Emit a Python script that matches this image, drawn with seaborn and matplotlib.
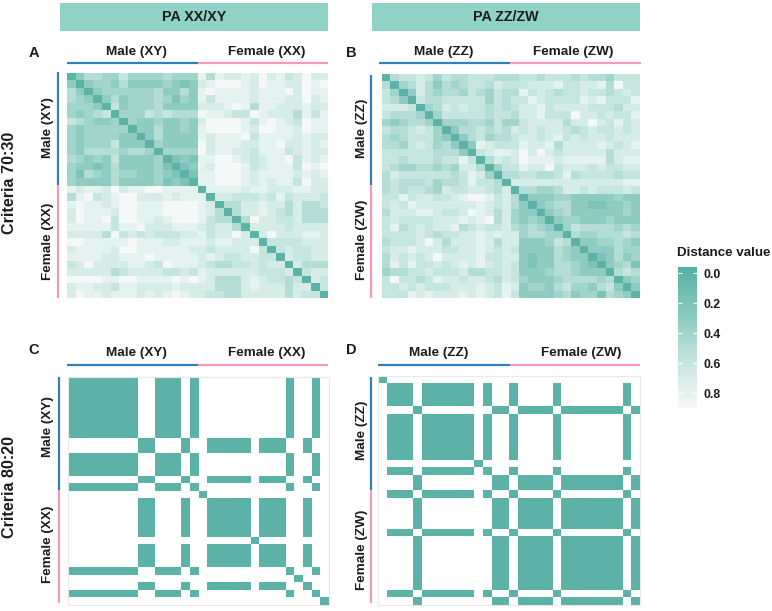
import numpy as np
import matplotlib
matplotlib.use("Agg")
import matplotlib.pyplot as plt
import seaborn as sns
from matplotlib.colors import LinearSegmentedColormap
from matplotlib.lines import Line2D
from matplotlib.patches import Rectangle

# panel A, one digit = distance in tenths
a_male = ["035544644445444", "03443533334323", "0344444453353", "035344454243",
          "06344453333", "0444656555", "043343343", "03353343", "0353333",
          "043333", "04444", "0232", "023", "02", "0"]
a_cross = ["858778797867977", "789998798877989", "898888788897988", "868888788877978",
           "777898588777877", "988766987775868", "799998689876988", "899998799887988",
           "878889688887877", "978887788977878", "978877688867877", "889987678896878",
           "879998678886989", "889998788887878", "889998787886977"]
a_female = ["088887887778877", "07766676867776", "0557787757556", "057787657555",
            "05977667555", "0777767777", "079777887", "06666777", "0676677",
            "076677", "07555", "0677", "076", "06", "0"]

# panel B
b_male = ["056676465566655", "04575354566576", "0375455465465", "065566666465",
          "04576766565", "0466666566", "044455464", "03556565", "0356455",
          "038766", "06788", "0576", "046", "05", "0"]
b_cross = ["566566656554666", "667778667785966", "586765667665676", "668766668786668",
           "677867777666577", "577866697767668", "467777577976867", "767677656766767",
           "677678676776777", "687785777787678", "797976777775777", "798887888885788",
           "687796777676677", "566556856666566", "777777777777788"]
b_female = ["055445776766676", "03334433333433", "0345533223343", "034533333343",
            "03443334333", "0465555454", "054455565", "03344543", "0333544",
            "023534", "03452", "0565", "034", "03", "0"]

# panels C and D, cluster of each sample
labels_c = [1, 1, 1, 1, 1, 1, 1, 1, 2, 2, 1, 1, 1, 2, 1, 3, 2, 2, 2, 2, 2, 4, 2, 2, 2, 1, 5, 2, 1, 6]
labels_d = [3, 1, 1, 1, 2, 1, 1, 1, 1, 1, 1, 4, 1, 2, 2, 1, 2, 2, 2, 2, 1, 2, 2, 2, 2, 2, 2, 2, 1, 2]

headers = ["PA XX/XY", "PA ZZ/ZW"]
criteria = ["Criteria 70:30", "Criteria 80:20"]
cbar_ticks = [0.0, 0.2, 0.4, 0.6, 0.8]

TEAL = "#8fd3c6"
BLUE = "#2f7fc1"
PINK = "#f79ab5"
DARK = "#1c1c1c"
W, H = 772, 611

sns.set_theme(style="white")
plt.rcParams["font.family"] = ["Liberation Sans", "DejaVu Sans"]
plt.rcParams["font.weight"] = "bold"


def tri(rows):
    m = np.zeros((15, 15))
    for i, r in enumerate(rows):
        m[i, i:] = [int(c) / 10 for c in r]
    return m + np.triu(m, 1).T


def full(male, cross, female):
    c = np.array([[int(d) / 10 for d in r] for r in cross])
    return np.block([[tri(male), c], [c.T, tri(female)]])


def binary(labels):
    lab = np.array(labels)
    return (lab[:, None] != lab[None, :]).astype(float)


def fx(x):
    return x / W


def fy(y):
    return 1 - y / H


def put(txt, x, y, size, rot=0):
    # nudge, matplotlib centres on the box with the descent in it
    if rot:
        x += 2.5
    else:
        y += 2
    fig.text(fx(x), fy(y), txt, fontsize=size, rotation=rot, color=DARK,
             ha="center", va="center", fontweight="bold")


def seg(x0, y0, x1, y1, color):
    fig.add_artist(Line2D([fx(x0), fx(x1)], [fy(y0), fy(y1)], color=color, lw=1.6,
                          solid_capstyle="butt"))


cmap = LinearSegmentedColormap.from_list(
    "dist", [(0, "#56afa3"), (0.35, "#8ccbc0"), (0.62, "#bce1da"), (0.85, "#dff0ec"), (1, "#f4f9f8")])
cmap.set_over("white")

fig = plt.figure(figsize=(W / 100, H / 100), dpi=100)

# x0, y0, x1, y1 of heatmap, then text spots
panels = [
    dict(data=full(a_male, a_cross, a_female), box=(67, 72.7, 328.3, 298.3), letter=("A", 34, 51),
         names=("Male (XY)", "Female (XX)"), top=(136.7, 267, 50), line_y=62.7,
         xs=(67.3, 198.3, 328.3), left=(46, 128, 241.7), left_x=58, ys=(72, 185, 298.3)),
    dict(data=full(b_male, b_cross, b_female), box=(381.7, 74, 640, 298.3), letter=("B", 351, 51),
         names=("Male (ZZ)", "Female (ZW)"), top=(444, 573, 50), line_y=62.7,
         xs=(379.3, 510, 640.7), left=(360, 128, 240), left_x=371.3, ys=(75, 185, 298)),
    dict(data=binary(labels_c), box=(68.3, 376.7, 329, 605), letter=("C", 34, 348),
         names=("Male (XY)", "Female (XX)"), top=(136.7, 267, 351), line_y=365,
         xs=(67.3, 198.3, 328.3), left=(46, 426.7, 544), left_x=58.7, ys=(377, 490, 603)),
    dict(data=binary(labels_d), box=(378.3, 375.7, 640, 605), letter=("D", 351, 348),
         names=("Male (ZZ)", "Female (ZW)"), top=(439, 580.7, 351), line_y=365,
         xs=(378.3, 510, 640), left=(360, 430, 550), left_x=371.3, ys=(377, 490, 602.7)),
]

cax = fig.add_axes([fx(678), fy(408), 19 / W, 141 / H])

for n, p in enumerate(panels):
    x0, y0, x1, y1 = p["box"]
    ax = fig.add_axes([fx(x0), fy(y1), (x1 - x0) / W, (y1 - y0) / H])
    sns.heatmap(p["data"], ax=ax, cmap=cmap, vmin=-0.04, vmax=0.9, square=False,
                xticklabels=False, yticklabels=False, cbar=n == 0, cbar_ax=cax if n == 0 else None)
    if n >= 2:
        for s in ax.spines.values():
            s.set_visible(True)
            s.set_color("#e9e9e9")
            s.set_linewidth(0.8)
    if n == 0:
        cb = ax.collections[0].colorbar
        cb.outline.set_visible(False)
        cb.set_ticks(cbar_ticks)
        cb.ax.set_yticklabels(["%.1f" % t for t in cbar_ticks], fontsize=8.8, fontweight="bold", color=DARK)
        cb.ax.tick_params(length=0, pad=5)
        cb.ax.hlines(cbar_ticks, 0, 0.2, color="white", lw=0.9)
        cb.ax.hlines(cbar_ticks, 0.8, 1, color="white", lw=0.9)
        cb.ax.invert_yaxis()

    put(p["letter"][0], p["letter"][1], p["letter"][2], 10.5)
    put(p["names"][0], p["top"][0], p["top"][2], 9.7)
    put(p["names"][1], p["top"][1], p["top"][2], 9.7)
    put(p["names"][0], p["left"][0], p["left"][1], 9.7, 90)
    put(p["names"][1], p["left"][0], p["left"][2], 9.7, 90)
    seg(p["xs"][0], p["line_y"], p["xs"][1], p["line_y"], BLUE)
    seg(p["xs"][1], p["line_y"], p["xs"][2], p["line_y"], PINK)
    seg(p["left_x"], p["ys"][0], p["left_x"], p["ys"][1], BLUE)
    seg(p["left_x"], p["ys"][1], p["left_x"], p["ys"][2], PINK)

for hx, name in zip([60, 372], headers):
    fig.add_artist(Rectangle((fx(hx), fy(31)), 268 / W, 28 / H, transform=fig.transFigure,
                             facecolor=TEAL, edgecolor="none"))
    put(name, hx + 134, 15, 10.3)

put(criteria[0], 7, 183, 11.6, 90)
put(criteria[1], 7, 487, 11.6, 90)
fig.text(fx(677), fy(253.5), "Distance value", fontsize=9.6, fontweight="bold", color=DARK,
         ha="left", va="center")

fig.savefig("out.png", dpi=100)
